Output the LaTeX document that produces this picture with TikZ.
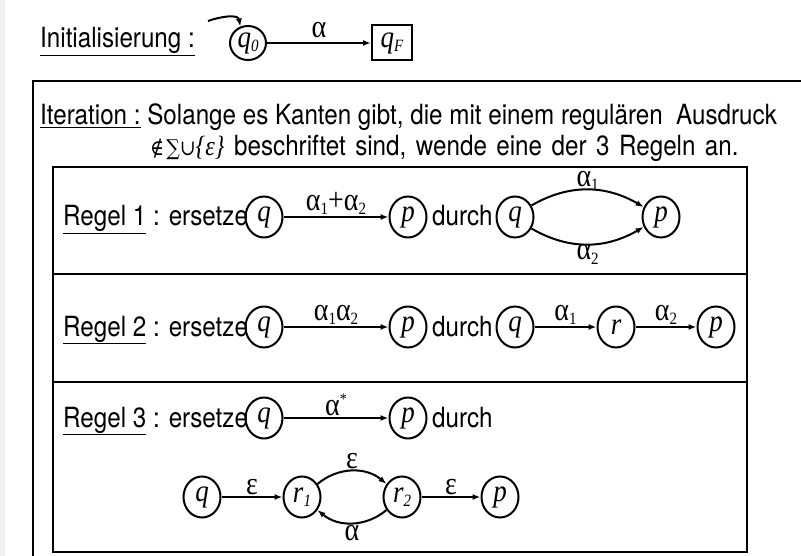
\documentclass[tikz,border=0pt]{standalone}
\usepackage{fontspec}
\usepackage{graphicx}
\setmainfont{TeX Gyre Heros}
\newfontfamily\serifmath{Liberation Serif}
\newfontfamily\symserif{DejaVu Serif}
\usetikzlibrary{arrows.meta,shapes.geometric}

% small lowered / raised indices
\newcommand\low[1]{\raisebox{-4pt}{\fontsize{15}{15}\selectfont #1}}
\newcommand\high[1]{\raisebox{10pt}{\fontsize{14}{14}\selectfont #1}}

% node text set slightly taller than wide
\newbox\tallbox
\newcommand\tallstart{\setbox\tallbox=\hbox\bgroup}
\newcommand\tallstop{\egroup\scalebox{1}[1.15]{\usebox\tallbox}}

\tikzset{
  tall/.style={execute at begin node=\tallstart, execute at end node=\tallstop},
  state/.style={draw, ellipse, line width=2pt, minimum width=37pt, minimum height=41pt,
    inner sep=0pt, tall, font=\fontsize{27}{27}\selectfont\serifmath\itshape},
  final/.style={draw, rectangle, line width=2pt, minimum width=40pt, minimum height=35pt,
    inner sep=0pt, tall, font=\fontsize{27}{27}\selectfont\serifmath\itshape},
  edge/.style={line width=2pt, -{Latex[length=8pt,width=6pt]}},
  lbl/.style={font=\fontsize{28}{28}\selectfont\serifmath, inner sep=1pt, tall},
  txt/.style={font=\fontsize{24.2}{28}\selectfont, inner sep=0pt, anchor=base west, tall},
  frame/.style={line width=2.2pt},
}

\begin{document}
\begin{tikzpicture}[x=1pt,y=-1pt]
\useasboundingbox (0,0) rectangle (801,556);
\clip (0,0) rectangle (801,556);
\fill[black!6] (0,0) rectangle (5,556);

% ---------- initialisation ----------
\node[txt] (init) at (40,48) {\underline{Initialisierung :}};
\node[state, minimum width=36pt, minimum height=34pt] (q0) at (248,43) {q\low{\itshape 0}};
\node[final] (qF) at (392,43) {q\low{\itshape F}};
\coordinate (start) at (208,21);
\draw[edge] (start) to[out=20,in=100] (q0.115);
\draw[edge] (q0) -- node[lbl, above=3pt] {α} (qF);

% ---------- frames ----------
\draw[frame] (801,81) -| (33,556);
\draw[frame] (53,167) rectangle (747,552);
\draw[frame] (53,274) -- (747,274);
\draw[frame] (53,382) -- (747,382);

% ---------- iteration text ----------
\node[txt] (it1) at (40,125) {\underline{Iteration :} Solange es Kanten gibt, die mit einem regulären\ \ Ausdruck};
\node[txt] (it2) at (150,156) {\spaceskip=9.5pt\relax{\symserif\fontsize{19}{19}\selectfont ∉\hspace{2pt}∑∪}{\serifmath\itshape \{ε\}} beschriftet sind, wende eine der 3 Regeln an.};

% ---------- rule 1 ----------
\node[txt] (t1) at (63,226) {\underline{Regel 1} : ersetze};
\node[state] (a1) at (264,217) {q};
\node[state] (b1) at (408,217) {p};
\node[txt] (d1) at (432,226) {durch};
\node[state] (c1) at (515,217) {q};
\node[state] (e1) at (661,217) {p};
\draw[edge] (a1) -- node[lbl, above=0pt] {α\low{1}+α\low{2}} (b1);
\draw[edge] (c1.35) to[out=30,in=150] node[lbl, above=-3pt] {α\low{1}} (e1.150);
\draw[edge] (c1.-35) to[out=-30,in=-150] node[lbl, below=-2pt] {α\low{2}} (e1.-150);

% ---------- rule 2 ----------
\node[txt] (t2) at (63,336) {\underline{Regel 2} : ersetze};
\node[state] (a2) at (264,327) {q};
\node[state] (b2) at (408,327) {p};
\node[txt] (d2) at (432,336) {durch};
\node[state] (c2) at (515,327) {q};
\node[state] (r2) at (616,327) {r};
\node[state] (e2) at (716,327) {p};
\draw[edge] (a2) -- node[lbl, above=0pt] {α\low{1}α\low{2}} (b2);
\draw[edge] (c2) -- node[lbl, above=0pt] {α\low{1}} (r2);
\draw[edge] (r2) -- node[lbl, above=0pt] {α\low{2}} (e2);

% ---------- rule 3 ----------
\node[txt] (t3) at (63,427) {\underline{Regel 3} : ersetze};
\node[state] (a3) at (264,418) {q};
\node[state] (b3) at (408,418) {p};
\node[txt] (d3) at (432,427) {durch};
\draw[edge] (a3) -- node[lbl, above=0pt] {α\high{*}} (b3);

\node[state] (q3) at (202,497) {q};
\node[state] (s1) at (302,497) {r\low{\itshape 1}};
\node[state] (s2) at (402,497) {r\low{\itshape 2}};
\node[state] (p3) at (500,497) {p};
\draw[edge] (q3) -- node[lbl, above=0pt] {ε} (s1);
\draw[edge] (s1.40) to[out=40,in=140] node[lbl, above=0pt] {ε} (s2.140);
\draw[edge] (s2.-140) to[out=-140,in=-40] node[lbl, below=0pt] {α} (s1.-40);
\draw[edge] (s2) -- node[lbl, above=0pt] {ε} (p3);
\end{tikzpicture}
\end{document}
